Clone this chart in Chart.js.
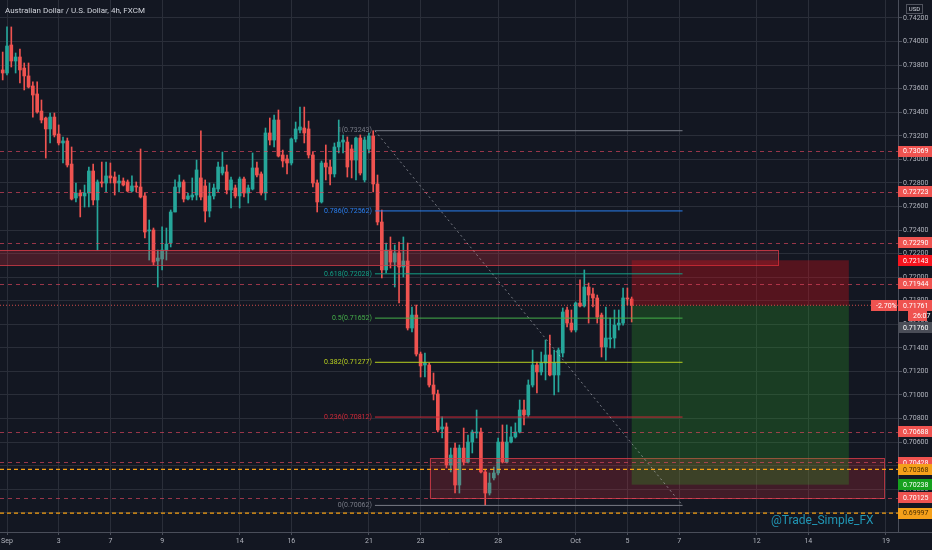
<!DOCTYPE html>
<html><head><meta charset="utf-8">
<script src="https://cdn.jsdelivr.net/npm/chart.js@4.4.0/dist/chart.umd.min.js"></script>
<style>html,body{margin:0;padding:0;background:#131722;overflow:hidden}canvas{display:block}</style>
</head><body>
<canvas id="c" width="932" height="550"></canvas>
<script>
const chartTitle = 'Australian Dollar / U.S. Dollar, 4h, FXCM';
const watermark = '@Trade_Simple_FX';
const firstBar = -1; // bar index of first candle (6 bars per trading day, Sep 1 = 0)
const opens = [0.73759,0.73733,0.73971,0.73835,0.73869,0.73775,0.73708,0.73623,0.73555,0.73410,0.73351,0.73258,0.73359,0.73215,0.73139,0.73156,0.72960,0.72672,0.72714,0.72689,0.72714,0.72901,0.72655,0.72808,0.72799,0.72859,0.72850,0.72799,0.72816,0.72808,0.72731,0.72774,0.72765,0.72689,0.72392,0.72400,0.72137,0.72154,0.72230,0.72290,0.72553,0.72765,0.72808,0.72663,0.72680,0.72697,0.72842,0.72774,0.72561,0.72689,0.72748,0.72884,0.72893,0.72740,0.72757,0.72689,0.72833,0.72714,0.72748,0.72927,0.72876,0.72714,0.73224,0.73164,0.73334,0.73037,0.73003,0.72969,0.73173,0.73249,0.73266,0.73258,0.73037,0.72799,0.72638,0.72969,0.72935,0.72876,0.73105,0.73147,0.73147,0.73088,0.72994,0.73181,0.72825,0.73088,0.73198,0.72791,0.72468,0.72061,0.72230,0.72128,0.72205,0.72086,0.72137,0.71568,0.71678,0.71347,0.71254,0.71254,0.71084,0.71008,0.70711,0.70728,0.70405,0.70549,0.70235,0.70549,0.70430,0.70600,0.70677,0.70685,0.70346,0.70167,0.70295,0.70337,0.70600,0.70430,0.70600,0.70643,0.70685,0.70872,0.70830,0.71084,0.71254,0.71195,0.71271,0.71339,0.71169,0.71169,0.71356,0.71721,0.71610,0.71551,0.71780,0.71755,0.71916,0.71857,0.71823,0.71678,0.71407,0.71475,0.71483,0.71593,0.71610,0.71823,0.71814];
const highs = [0.73911,0.74124,0.74124,0.73903,0.73937,0.73818,0.73818,0.73657,0.73657,0.73504,0.73359,0.73393,0.73393,0.73292,0.73190,0.73181,0.73105,0.72799,0.72740,0.72782,0.72935,0.72960,0.72825,0.72977,0.72977,0.72969,0.72893,0.72867,0.72842,0.72825,0.72859,0.72808,0.73088,0.72714,0.72485,0.72417,0.72230,0.72426,0.72417,0.72570,0.72825,0.72867,0.72825,0.72714,0.72842,0.72994,0.73241,0.72825,0.72799,0.72791,0.72977,0.73062,0.72952,0.72850,0.72782,0.72850,0.72850,0.72782,0.73054,0.72977,0.72893,0.73266,0.73351,0.73376,0.73419,0.73079,0.73037,0.73181,0.73317,0.73444,0.73444,0.73325,0.73062,0.72825,0.72986,0.73122,0.72994,0.73139,0.73334,0.73207,0.73190,0.73122,0.73190,0.73207,0.73190,0.73224,0.73243,0.72867,0.72570,0.72290,0.72341,0.72273,0.72298,0.72341,0.72290,0.71746,0.71763,0.71364,0.71356,0.71271,0.71186,0.71042,0.70813,0.70762,0.70549,0.70592,0.70575,0.70719,0.70660,0.70702,0.70872,0.70719,0.70363,0.70337,0.70388,0.70634,0.70745,0.70745,0.70728,0.70762,0.70957,0.70957,0.71127,0.71381,0.71279,0.71364,0.71466,0.71509,0.71381,0.71398,0.71738,0.71746,0.71721,0.71789,0.71976,0.72061,0.71950,0.71908,0.71848,0.71695,0.71746,0.71653,0.71721,0.71721,0.71908,0.71908,0.71831];
const lows = [0.73674,0.73716,0.73784,0.73733,0.73648,0.73589,0.73606,0.73359,0.73393,0.73309,0.73011,0.73139,0.73190,0.73122,0.72969,0.72935,0.72655,0.72638,0.72511,0.72595,0.72595,0.72612,0.72230,0.72765,0.72723,0.72799,0.72697,0.72723,0.72774,0.72723,0.72723,0.72723,0.72672,0.72332,0.72145,0.72103,0.71916,0.72061,0.72145,0.72256,0.72553,0.72714,0.72638,0.72655,0.72655,0.72655,0.72655,0.72468,0.72511,0.72663,0.72723,0.72867,0.72706,0.72587,0.72672,0.72587,0.72680,0.72629,0.72740,0.72850,0.72697,0.72655,0.73122,0.73105,0.73020,0.72935,0.72876,0.72952,0.73147,0.73224,0.73139,0.73011,0.72765,0.72553,0.72629,0.72825,0.72782,0.72850,0.73054,0.73054,0.72850,0.72842,0.72825,0.72867,0.72808,0.73054,0.72723,0.72443,0.71993,0.72035,0.72077,0.71916,0.71780,0.72001,0.71551,0.71534,0.71330,0.71152,0.71152,0.71067,0.70957,0.70685,0.70634,0.70380,0.70346,0.70167,0.70167,0.70405,0.70422,0.70507,0.70634,0.70337,0.70062,0.70150,0.70278,0.70320,0.70422,0.70422,0.70592,0.70634,0.70677,0.70745,0.70813,0.71067,0.71016,0.71169,0.71127,0.71161,0.70999,0.71025,0.71322,0.71577,0.71534,0.71534,0.71746,0.71746,0.71610,0.71746,0.71610,0.71322,0.71296,0.71398,0.71398,0.71551,0.71593,0.71763,0.71619];
const closes = [0.73733,0.73962,0.73835,0.73869,0.73759,0.73708,0.73614,0.73546,0.73402,0.73334,0.73258,0.73359,0.73207,0.73139,0.73156,0.72952,0.72663,0.72714,0.72689,0.72714,0.72901,0.72655,0.72808,0.72799,0.72859,0.72842,0.72799,0.72816,0.72782,0.72731,0.72774,0.72765,0.72680,0.72383,0.72400,0.72128,0.72162,0.72230,0.72281,0.72553,0.72765,0.72808,0.72663,0.72689,0.72697,0.72910,0.72680,0.72561,0.72689,0.72757,0.72935,0.72935,0.72740,0.72825,0.72689,0.72833,0.72714,0.72757,0.72927,0.72867,0.72714,0.73224,0.73164,0.73334,0.73028,0.72986,0.72969,0.73173,0.73258,0.73275,0.73224,0.73037,0.72799,0.72638,0.72969,0.72935,0.72876,0.73105,0.73147,0.73164,0.72935,0.72994,0.73181,0.72884,0.73164,0.73198,0.72791,0.72468,0.72061,0.72230,0.72128,0.72205,0.72086,0.72137,0.71568,0.71678,0.71347,0.71246,0.71271,0.71084,0.71008,0.70702,0.70728,0.70405,0.70490,0.70235,0.70549,0.70430,0.70600,0.70685,0.70685,0.70346,0.70167,0.70252,0.70337,0.70600,0.70430,0.70600,0.70643,0.70685,0.70872,0.70830,0.71084,0.71254,0.71195,0.71271,0.71339,0.71169,0.71271,0.71381,0.71704,0.71610,0.71551,0.71780,0.71755,0.71916,0.71848,0.71823,0.71661,0.71407,0.71483,0.71483,0.71593,0.71610,0.71823,0.71814,0.71761];

const xTickBars = [0,12,24,36,54,66,84,96,114,132,144,156,174,186,204];
const xTickLabels = ['Sep','3','7','9','14','16','21','23','28','Oct','5','7','12','14','19'];
const yTickValues = [0.700,0.702,0.704,0.706,0.708,0.710,0.712,0.714,0.716,0.718,0.720,0.722,0.724,0.726,0.728,0.730,0.732,0.734,0.736,0.738,0.740,0.742];
const yRange = [0.698361, 0.743528];
const xRange = [-1.625, 206.81];

const resistanceLevels = [0.73069,0.72723,0.72290,0.71944,0.70688,0.70428,0.70125];
const orangeLevels = [0.70368,0.69997];
const supplyZone = [0.72103,0.72231];
const supplyZoneBars = [-4,178.9];
const demandZone = [0.70125,0.70464];
const demandZoneBars = [98.1,203.5];
const fibRatios = [1,0.786,0.618,0.5,0.382,0.236,0];
const fibPrices = [0.73243,0.72562,0.72028,0.71652,0.71277,0.70812,0.70062];
const fibBars = [85.4,156.8];
const positionEntry = 0.71760, positionStop = 0.72143, positionTarget = 0.70238;
const positionBars = [145,195.4];
const lastPrice = 0.71761;
const changeText = '-2.70%';
const countdownText = '26:07';

const UP = '#26a69a', DOWN = '#ef5350';
const fibColors = ['#787b86','#2a7ff0','#12a086','#46b04a','#b8d020','#d02838','#787b86'];
const FONT = 'Roboto, "Noto Sans", sans-serif';

const barIdx = opens.map((_, k) => firstBar + k);
const candleColors = closes.map((c, k) => c >= opens[k] ? UP : DOWN);
const bodyData = barIdx.map((b, k) => ({x: b, y: [opens[k], closes[k]]}));
const wickData = barIdx.map((b, k) => ({x: b, y: [lows[k], highs[k]]}));

function axisLabel(ctx, yPix, text, bg, fg, left, right) {
  const h = 11;
  ctx.fillStyle = bg;
  ctx.fillRect(left, Math.round(yPix - h/2), right - left, h);
  ctx.fillStyle = fg;
  ctx.font = '7px ' + FONT;
  ctx.textBaseline = 'middle';
  ctx.textAlign = 'left';
  ctx.fillText(text, left + 5, yPix + 0.5);
}

const overlay = {
  id: 'overlay',
  afterDatasetsDraw(chart) {
    const {ctx, chartArea: a, scales: {x, y}} = chart;
    const X = v => x.getPixelForValue(v), Y = v => y.getPixelForValue(v);
    ctx.save();
    ctx.beginPath(); ctx.rect(a.left, a.top, a.right - a.left, a.bottom - a.top); ctx.clip();

    const zone = (bars, prices, fill, stroke) => {
      const x1 = X(bars[0]), x2 = X(bars[1]), y1 = Y(prices[1]), y2 = Y(prices[0]);
      ctx.fillStyle = fill; ctx.fillRect(x1, y1, x2 - x1, y2 - y1);
      ctx.strokeStyle = stroke; ctx.lineWidth = 1; ctx.setLineDash([]);
      ctx.strokeRect(Math.round(x1) + 0.5, Math.round(y1) + 0.5, Math.round(x2 - x1), Math.round(y2 - y1));
    };
    zone(supplyZoneBars, supplyZone, 'rgba(230,50,65,0.24)', 'rgba(215,60,72,0.8)');
    zone(demandZoneBars, demandZone, 'rgba(230,50,65,0.22)', 'rgba(215,60,72,0.8)');

    const px1 = X(positionBars[0]), px2 = X(positionBars[1]);
    ctx.fillStyle = 'rgba(222,14,23,0.33)';
    ctx.fillRect(px1, Y(positionStop), px2 - px1, Y(positionEntry) - Y(positionStop));
    ctx.fillStyle = 'rgba(45,170,40,0.26)';
    ctx.fillRect(px1, Y(positionEntry), px2 - px1, Y(positionTarget) - Y(positionEntry));

    const hline = (v, color, dash, w, snap) => {
      const yy = snap ? Math.round(Y(v)) + 0.5 : Y(v);
      ctx.strokeStyle = color; ctx.lineWidth = w; ctx.setLineDash(dash);
      ctx.beginPath(); ctx.moveTo(a.left, yy); ctx.lineTo(a.right, yy); ctx.stroke();
    };
    resistanceLevels.forEach(v => hline(v, 'rgba(225,70,95,0.65)', [4, 4], 1, true));
    orangeLevels.forEach(v => hline(v, '#f5a012', [4, 3], 1.2, false));
    hline(lastPrice, 'rgba(239,83,80,0.85)', [1, 2], 1.1, false);

    const fx1 = X(fibBars[0]), fx2 = X(fibBars[1]);
    ctx.setLineDash([]);
    ctx.font = '7px ' + FONT; ctx.textAlign = 'right'; ctx.textBaseline = 'middle';
    fibRatios.forEach((r, k) => {
      const yy = Y(fibPrices[k]);
      ctx.strokeStyle = fibColors[k]; ctx.lineWidth = 1;
      ctx.beginPath(); ctx.moveTo(fx1, yy); ctx.lineTo(fx2, yy); ctx.stroke();
      ctx.fillStyle = fibColors[k];
      ctx.fillText(String(r) + '(' + fibPrices[k].toFixed(5) + ')', fx1 - 3, yy);
    });
    ctx.strokeStyle = 'rgba(200,202,210,0.55)'; ctx.lineWidth = 1; ctx.setLineDash([2, 3]);
    ctx.beginPath(); ctx.moveTo(fx1, Y(fibPrices[0])); ctx.lineTo(fx2, Y(fibPrices[fibPrices.length - 1])); ctx.stroke();
    ctx.setLineDash([]);

    ctx.textAlign = 'left'; ctx.textBaseline = 'middle';
    ctx.fillStyle = '#d1d4dc'; ctx.font = '8px ' + FONT;
    ctx.fillText(chartTitle, 5, 10.5);
    ctx.fillStyle = '#2196b4'; ctx.font = '12px ' + FONT;
    ctx.fillText(watermark, 771, 521);
    ctx.restore();
  },
  afterDraw(chart) {
    const {ctx, chartArea: a, scales: {y}} = chart;
    const Y = v => y.getPixelForValue(v);
    const L = a.right, R = chart.width;
    ctx.save();
    ctx.strokeStyle = '#4a4e5a'; ctx.lineWidth = 1;
    ctx.beginPath(); ctx.moveTo(L, a.bottom + 0.5); ctx.lineTo(R, a.bottom + 0.5); ctx.stroke();
    ctx.strokeStyle = '#50535e';
    ctx.strokeRect(906.5, 4.5, 16, 9);
    ctx.fillStyle = '#d1d4dc'; ctx.font = '6px ' + FONT; ctx.textAlign = 'center'; ctx.textBaseline = 'middle';
    ctx.fillText('USD', 914.5, 9.5);

    resistanceLevels.forEach(v => axisLabel(ctx, Y(v), v.toFixed(5), '#ef5350', '#ffffff', L, R));
    axisLabel(ctx, Y(positionStop), positionStop.toFixed(5), '#f7141e', '#ffffff', L, R);
    axisLabel(ctx, Y(orangeLevels[0]), orangeLevels[0].toFixed(5), '#f5a01a', '#4a2e00', L, R);
    axisLabel(ctx, Y(positionTarget), positionTarget.toFixed(5), '#16a11e', '#ffffff', L, R);
    axisLabel(ctx, Y(resistanceLevels[6]), resistanceLevels[6].toFixed(5), '#ef5350', '#ffffff', L, R);
    axisLabel(ctx, Y(orangeLevels[1]), orangeLevels[1].toFixed(5), '#f5a01a', '#4a2e00', L, R);
    axisLabel(ctx, Y(lastPrice), lastPrice.toFixed(5), '#ef5350', '#ffffff', L, R);
    axisLabel(ctx, Y(lastPrice), changeText, '#ef5350', '#ffffff', L - 27, L - 1);
    axisLabel(ctx, Y(lastPrice) + 10, countdownText, '#ef5350', '#ffffff', L + 10, L + 29);
    axisLabel(ctx, Y(positionEntry) + 22, positionEntry.toFixed(5), '#4a4d57', '#ffffff', L, R);
    ctx.restore();
  }
};

Chart.defaults.font.family = FONT;
Chart.defaults.color = '#b2b5be';

new Chart(document.getElementById('c'), {
  type: 'bar',
  data: {
    datasets: [
      {label: 'body', data: bodyData, backgroundColor: candleColors, barThickness: 3, minBarLength: 1, grouped: false, order: 1, borderWidth: 0},
      {label: 'wick', data: wickData, backgroundColor: candleColors, barThickness: 1, minBarLength: 1, grouped: false, order: 2, borderWidth: 0}
    ]
  },
  options: {
    responsive: false,
    animation: false,
    layout: {padding: 0},
    plugins: {legend: {display: false}, tooltip: {enabled: false}, title: {display: false}},
    scales: {
      x: {
        type: 'linear', min: xRange[0], max: xRange[1], offset: false,
        grid: {color: '#2a2e39', offset: false, drawTicks: true, tickLength: 3, tickColor: '#4a4e5a'},
        border: {color: '#4a4e5a'},
        ticks: {autoSkip: false, maxRotation: 0, padding: 2, font: {size: 7}, color: '#b2b5be',
          callback: v => { const k = xTickBars.indexOf(v); return k >= 0 ? xTickLabels[k] : ''; }},
        afterBuildTicks: s => { s.ticks = xTickBars.map(v => ({value: v})); },
        afterFit: s => { s.height = 18; s.paddingLeft = 0; s.paddingRight = 0; }
      },
      y: {
        type: 'linear', position: 'right', min: yRange[0], max: yRange[1], beginAtZero: false,
        grid: {color: '#2a2e39', drawTicks: true, tickLength: 4, tickColor: '#4a4e5a'},
        border: {color: '#4a4e5a'},
        ticks: {autoSkip: false, padding: 1, font: {size: 7}, color: '#b2b5be', callback: v => Number(v).toFixed(5)},
        afterBuildTicks: s => { s.ticks = yTickValues.map(v => ({value: v})); },
        afterFit: s => { s.width = 34; s.paddingTop = 0; s.paddingBottom = 0; }
      }
    }
  },
  plugins: [overlay]
});
</script>
</body></html>
